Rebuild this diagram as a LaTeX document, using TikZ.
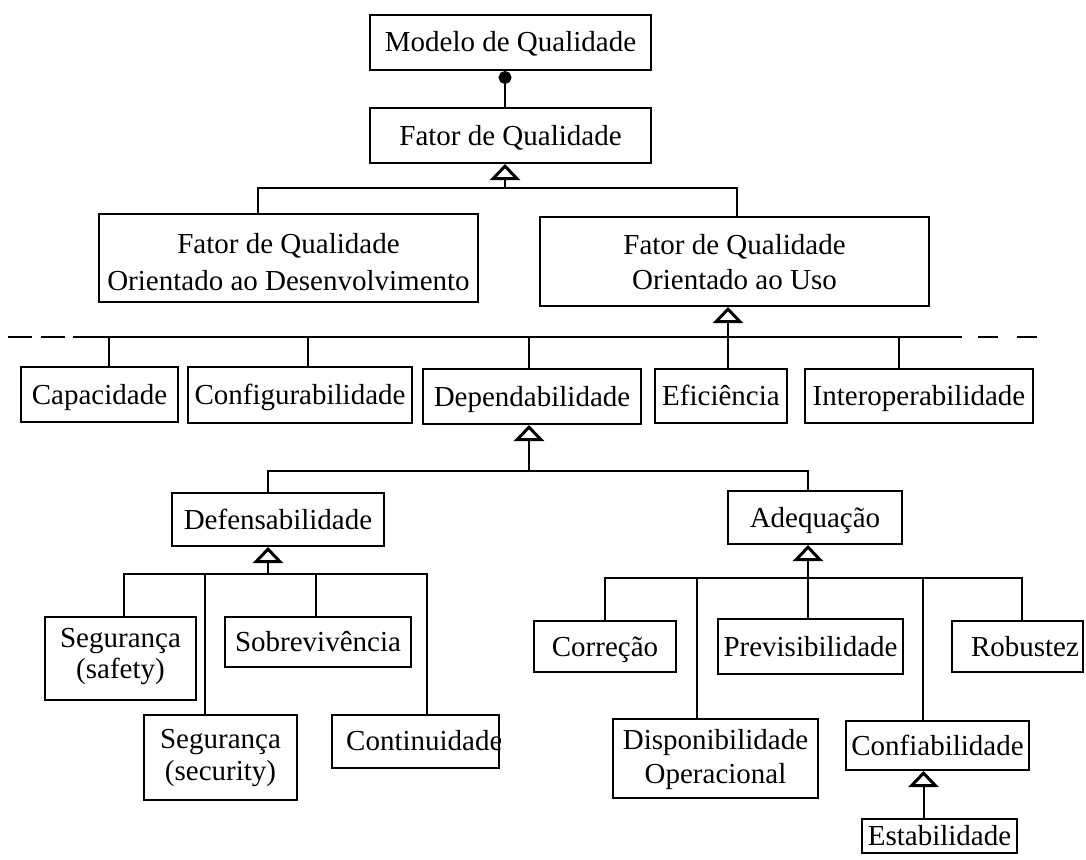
\documentclass[tikz,border=0pt]{standalone}
\usepackage{fontspec}
\setmainfont{Liberation Serif}
\usetikzlibrary{arrows.meta}

\begin{document}
\begin{tikzpicture}[x=1pt, y=-1pt,
  box/.style={draw, line width=2pt, inner sep=0pt, align=center,
    font=\fontsize{29}{34}\selectfont},
  one/.style={text height=19pt, text depth=0pt},
  link/.style={line width=2pt},
  gen/.style={link, -{Triangle[open, length=16pt, width=30pt, line width=3pt]}},
  comp/.style={link, {Circle[length=13pt]}-}
]
\useasboundingbox (0,0) rectangle (1086,859);

% --- top of the model
\node[box, one, minimum width=281pt, minimum height=55pt] (modelo) at (510.5,42.5) {Modelo de Qualidade};
\node[box, one, minimum width=281pt, minimum height=55pt] (fator) at (510.5,135.5) {Fator de Qualidade};

\node[box, minimum width=379pt, minimum height=88pt, font=\fontsize{29}{37}\selectfont] (desenv) at (288.5,258)
  {\rule{0pt}{29pt}Fator de Qualidade\\Orientado ao Desenvolvimento};
\node[box, minimum width=389pt, minimum height=89pt, font=\fontsize{29}{35}\selectfont] (uso) at (734.5,261.5)
  {\rule{0pt}{22pt}Fator de Qualidade\\Orientado ao Uso};

% --- usage-oriented factors
\node[box, one, minimum width=157pt, minimum height=55pt] (capac) at (99.5,394.5) {Capacidade};
\node[box, one, minimum width=224pt, minimum height=56pt] (config) at (300,395) {Configurabilidade};
\node[box, one, minimum width=218pt, minimum height=55pt] (depend) at (532,396.5) {Dependabilidade};
\node[box, one, minimum width=132pt, minimum height=54pt] (efic) at (721,396) {Eficiência};
\node[box, one, minimum width=228pt, minimum height=54pt] (interop) at (919,396) {Interoperabilidade};

% --- dependability branches
\node[box, one, minimum width=212pt, minimum height=53pt] (defens) at (278,519.5) {Defensabilidade};
\node[box, one, minimum width=174pt, minimum height=53pt] (adeq) at (815,517.5) {Adequação};

% --- defensability
\node[box, minimum width=151pt, minimum height=83pt, font=\fontsize{29}{31}\selectfont] (safety) at (120.5,658.5)
  {\rule{0pt}{19pt}Segurança\\(safety)\rule[-11pt]{0pt}{11pt}};
\node[box, one, minimum width=186pt, minimum height=50pt] (sobrev) at (318,642) {Sobrevivência};
\node[box, minimum width=153pt, minimum height=85pt, font=\fontsize{29}{32}\selectfont] (security) at (220.5,757.5)
  {\rule{0pt}{20pt}Segurança\\(security)\rule[-7pt]{0pt}{7pt}};
\node[box, minimum width=167pt, minimum height=53pt] (contin) at (415.5,741.5) {};
\begin{scope}
  \clip (contin.south west) rectangle (contin.north east);
  \node[anchor=base west, inner sep=0pt, font=\fontsize{29}{34}\selectfont] (contintxt) at (346,750) {Continuidade};
\end{scope}

% --- adequacy
\node[box, one, minimum width=142pt, minimum height=51pt] (correcao) at (605,646.5) {Correção};
\node[box, one, minimum width=185pt, minimum height=55pt] (previs) at (810.5,646.5) {Previsibilidade};
\node[box, one, minimum width=131pt, minimum height=51pt] (robustez) at (1017.5,646.5) {\hspace*{15pt}Robustez};
\node[box, minimum width=205pt, minimum height=79pt, font=\fontsize{29}{34}\selectfont] (dispon) at (715.5,758.5)
  {\rule{0pt}{23pt}Disponibilidade\\Operacional\rule[-6pt]{0pt}{6pt}};
\node[box, one, minimum width=183pt, minimum height=49pt] (confiab) at (937.5,745.5) {Confiabilidade};
\node[box, one, minimum width=155pt, minimum height=34pt] (estab) at (939.5,836) {Estabilidade};

% --- composition
\draw[comp] ([xshift=-5.5pt]modelo.south) -- ([xshift=-5.5pt]fator.north);

% --- quality factor specialisations
\coordinate (b1) at (505,188);
\draw[gen] (b1) -- (b1 |- fator.south);
\draw[link] ([xshift=-30.5pt]desenv.north) |- (b1) -| ([xshift=2.5pt]uso.north);

% --- separator and usage-oriented bus
\draw[link, dash pattern=on 24pt off 9pt] (8,337) -- (73,337);
\draw[link, dash pattern=on 20pt off 19pt] (1037,337) -- (962,337);
\coordinate (b2l) at (73,337);
\coordinate (b2r) at (962,337);
\draw[link] (b2l) -- (b2r);
\draw[gen] ([xshift=7pt]efic.north) -- ([xshift=-6.5pt]uso.south);
\draw[link] ([xshift=9.5pt]capac.north) |- (b2l);
\draw[link] ([xshift=8pt]config.north) |- (b2l);
\draw[link] ([xshift=-3pt]depend.north) |- (b2l);
\draw[link] ([xshift=-20pt]interop.north) |- (b2r);

% --- dependability
\coordinate (b3) at (529,471);
\draw[gen] (b3) -- (b3 |- depend.south);
\draw[link] ([xshift=-10pt]defens.north) |- (b3) -| ([xshift=-7pt]adeq.north);

% --- defensability
\coordinate (b4) at (268,574);
\draw[gen] (b4) -- (b4 |- defens.south);
\draw[link] ([xshift=3.5pt]safety.north) |- (b4) -| ([xshift=11.5pt]contin.north);
\draw[link] ([xshift=-15.5pt]security.north) |- (b4);
\draw[link] ([xshift=-2pt]sobrev.north) |- (b4);

% --- adequacy
\coordinate (b5) at (808,578);
\draw[gen] ([xshift=-2.5pt]previs.north) -- ([xshift=-7pt]adeq.south);
\draw[link] (correcao.north) |- (b5) -| ([xshift=4.5pt]robustez.north);
\draw[link] ([xshift=-18.5pt]dispon.north) |- (b5);
\draw[link] ([xshift=-14.5pt]confiab.north) |- (b5);

% --- reliability
\draw[gen] ([xshift=-16pt]estab.north) -- ([xshift=-14pt]confiab.south);
\end{tikzpicture}
\end{document}
